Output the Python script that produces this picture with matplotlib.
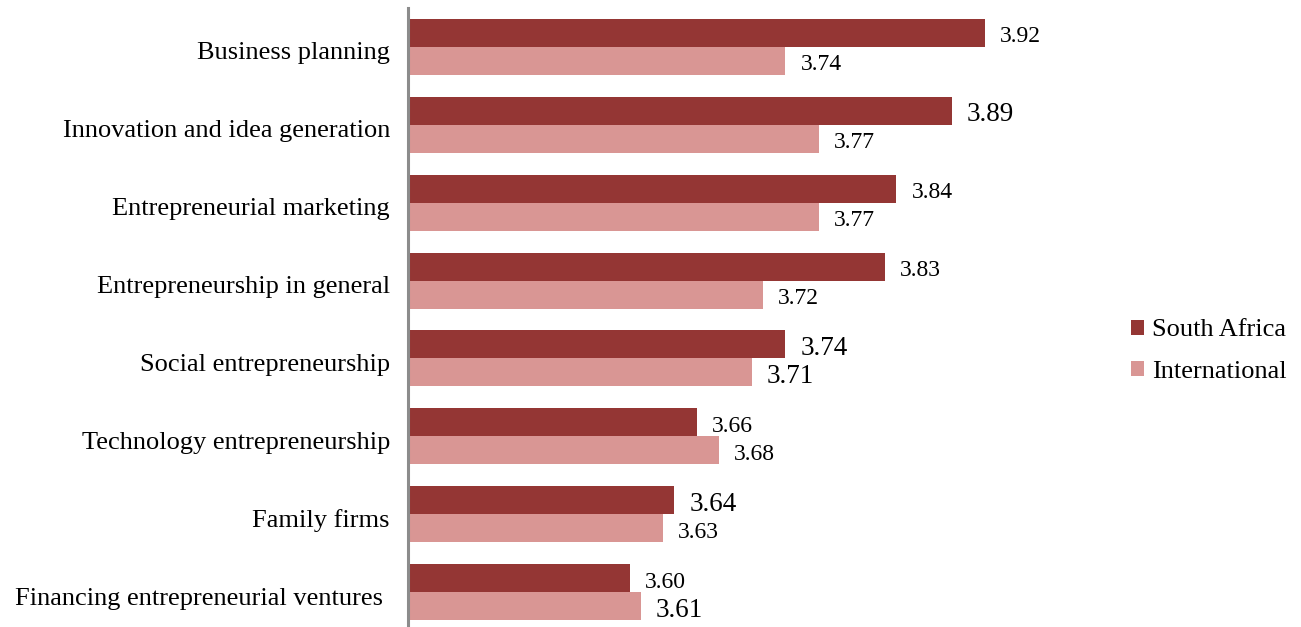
import matplotlib
matplotlib.use("Agg")
import matplotlib.pyplot as plt
import matplotlib.transforms as mtransforms
from matplotlib.patches import Patch
import numpy as np

categories = [
    "Business planning",
    "Innovation and idea generation",
    "Entrepreneurial marketing",
    "Entrepreneurship in general",
    "Social entrepreneurship",
    "Technology entrepreneurship",
    "Family firms",
    "Financing entrepreneurial ventures ",
]
south_africa = [3.92, 3.89, 3.84, 3.83, 3.74, 3.66, 3.64, 3.60]
international = [3.74, 3.77, 3.77, 3.72, 3.71, 3.68, 3.63, 3.61]
series_names = ["South Africa", "International"]

# label sizes (points) per bar, as typeset in the source document
sa_label_size = [17, 19.5, 17, 17, 19.5, 17, 19.5, 17]
int_label_size = [17, 17, 17, 17, 19.5, 17, 17, 19.5]

DARK = "#943634"
LIGHT = "#D99694"
W, H, DPI = 1301, 627, 100

plt.rcParams["font.family"] = ["Liberation Serif", "DejaVu Serif"]

fig = plt.figure(figsize=(W / DPI, H / DPI), dpi=DPI)
x0, x1 = 408, 1074
y_top, y_bot = 8, 631
ax = fig.add_axes([x0 / W, (H - y_bot) / H, (x1 - x0) / W, (y_bot - y_top) / H])

n = len(categories)
y = np.arange(n)
bh = 0.36
ax.barh(y - bh / 2, south_africa, height=bh, color=DARK, left=0)
ax.barh(y + bh / 2, international, height=bh, color=LIGHT, left=0)
ax.set_xlim(3.4, 4.0)
ax.set_ylim(n - 0.5, -0.5)

for i in range(n):
    ax.annotate(f"{south_africa[i]:.2f}", (south_africa[i], y[i] - bh / 2),
                xytext=(15, -4), textcoords="offset pixels",
                va="center", ha="left", fontsize=sa_label_size[i], color="#000000")
    ax.annotate(f"{international[i]:.2f}", (international[i], y[i] + bh / 2),
                xytext=(15, -4), textcoords="offset pixels",
                va="center", ha="left", fontsize=int_label_size[i], color="#000000")

ax.set_yticks(y)
ax.set_yticklabels(categories, fontsize=19)
ax.tick_params(axis="y", length=0, pad=13)
shift = mtransforms.ScaledTranslation(0, -4 / DPI, fig.dpi_scale_trans)
for lbl in ax.get_yticklabels():
    lbl.set_transform(lbl.get_transform() + shift)
ax.set_xticks([])
for s in ["top", "right", "bottom"]:
    ax.spines[s].set_visible(False)
ax.spines["left"].set_color("#8c8c8c")
ax.spines["left"].set_linewidth(2.2)

handles = [Patch(facecolor=DARK), Patch(facecolor=LIGHT)]
fig.legend(handles, series_names, loc="center left",
           bbox_to_anchor=(1131 / W, 1 - 351 / H), frameon=False,
           fontsize=19, handlelength=0.5, handleheight=0.5,
           handletextpad=0.3, labelspacing=0.72, borderpad=0, borderaxespad=0)

fig.savefig("out.png", dpi=DPI)
